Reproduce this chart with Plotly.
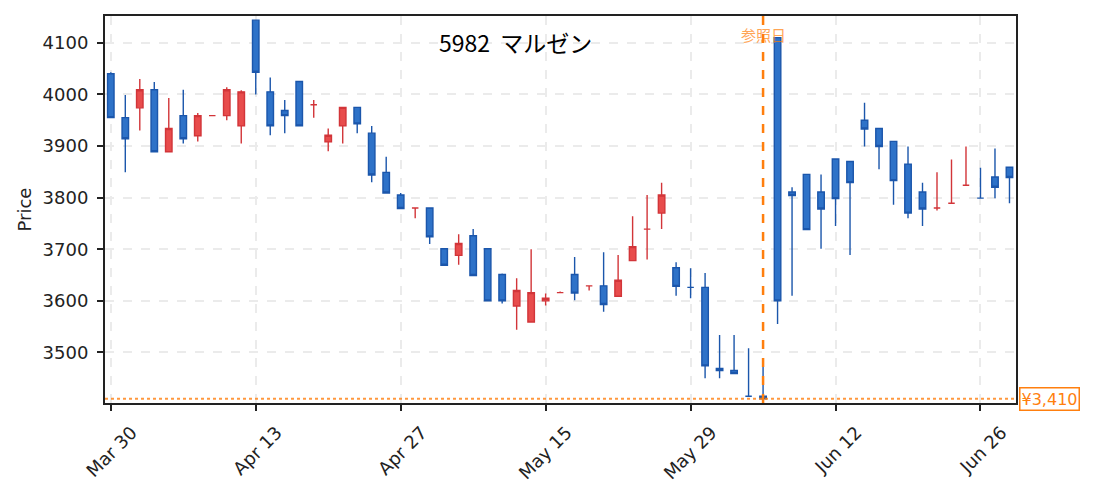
import plotly.graph_objects as go

# trading days (Tokyo, 2020)
dates = [
    "2020-03-30", "2020-03-31", "2020-04-01", "2020-04-02", "2020-04-03",
    "2020-04-06", "2020-04-07", "2020-04-08", "2020-04-09", "2020-04-10",
    "2020-04-13", "2020-04-14", "2020-04-15", "2020-04-16", "2020-04-17",
    "2020-04-20", "2020-04-21", "2020-04-22", "2020-04-23", "2020-04-24",
    "2020-04-27", "2020-04-28", "2020-04-30", "2020-05-01", "2020-05-07",
    "2020-05-08", "2020-05-11", "2020-05-12", "2020-05-13", "2020-05-14",
    "2020-05-15", "2020-05-18", "2020-05-19", "2020-05-20", "2020-05-21",
    "2020-05-22", "2020-05-25", "2020-05-26", "2020-05-27", "2020-05-28",
    "2020-05-29", "2020-06-01", "2020-06-02", "2020-06-03", "2020-06-04",
    "2020-06-05", "2020-06-08", "2020-06-09", "2020-06-10", "2020-06-11",
    "2020-06-12", "2020-06-15", "2020-06-16", "2020-06-17", "2020-06-18",
    "2020-06-19", "2020-06-22", "2020-06-23", "2020-06-24", "2020-06-25",
    "2020-06-26", "2020-06-29", "2020-06-30",
]
open_ = [
    4040, 3955, 3974, 4009, 3889, 3959, 3920, 3959, 3959, 3939,
    4144, 4005, 3969, 4025, 3980, 3908, 3939, 3975, 3925, 3849,
    3805, 3780, 3780, 3701, 3688, 3726, 3701, 3651, 3590, 3559,
    3600, 3616, 3651, 3629, 3629, 3609, 3678, 3739, 3770, 3664,
    3626, 3626, 3469, 3465, 3415, 3415, 4110, 3811, 3845, 3811,
    3875, 3870, 3950, 3934, 3909, 3865, 3811, 3780, 3789, 3824,
    3799, 3840, 3859,
]
high = [
    4043, 3999, 4030, 4024, 3993, 4009, 3964, 3959, 4014, 4008,
    4144, 4033, 3989, 4025, 3989, 3934, 3975, 3975, 3939, 3879,
    3809, 3780, 3780, 3701, 3729, 3739, 3701, 3653, 3644, 3700,
    3614, 3618, 3685, 3629, 3694, 3689, 3764, 3805, 3829, 3675,
    3663, 3654, 3534, 3534, 3508, 3474, 4110, 3820, 3845, 3845,
    3875, 3870, 3984, 3934, 3909, 3899, 3829, 3849, 3874, 3899,
    3858, 3895, 3859,
]
low = [
    3955, 3849, 3930, 3889, 3889, 3905, 3909, 3959, 3950, 3905,
    4000, 3921, 3925, 3939, 3955, 3890, 3905, 3925, 3830, 3809,
    3779, 3760, 3710, 3669, 3670, 3649, 3600, 3595, 3544, 3559,
    3591, 3616, 3601, 3620, 3579, 3609, 3678, 3680, 3739, 3610,
    3605, 3450, 3450, 3459, 3415, 3410, 3555, 3610, 3738, 3701,
    3745, 3689, 3899, 3855, 3786, 3760, 3745, 3775, 3789, 3824,
    3799, 3799, 3789,
]
close = [
    3955, 3914, 4009, 3889, 3934, 3914, 3959, 3959, 4009, 4005,
    4043, 3939, 3959, 3939, 3980, 3921, 3975, 3943, 3844, 3809,
    3779, 3780, 3724, 3669, 3711, 3649, 3600, 3600, 3620, 3616,
    3605, 3616, 3615, 3629, 3593, 3640, 3705, 3739, 3805, 3628,
    3626, 3474, 3465, 3459, 3415, 3410, 3600, 3804, 3738, 3778,
    3798, 3829, 3933, 3899, 3833, 3770, 3778, 3780, 3789, 3824,
    3799, 3820, 3839,
]

ref_date = "2020-06-05"
ref_price = 3410
tick_idx = [0, 10, 20, 30, 40, 50, 60]
tick_text = ["Mar 30", "Apr 13", "Apr 27", "May 15", "May 29", "Jun 12", "Jun 26"]

orange = "#ff7f0e"
latin = "DejaVu Sans, sans-serif"
cjk = "Noto Sans CJK JP, DejaVu Sans, sans-serif"

fig = go.Figure()

fig.add_trace(go.Candlestick(
    x=dates, open=open_, high=high, low=low, close=close,
    increasing=dict(line=dict(color="#d23539", width=1.4), fillcolor="#e84c4c"),
    decreasing=dict(line=dict(color="#1b56ab", width=1.4), fillcolor="#2e72c8"),
    whiskerwidth=0,
    showlegend=False,
))

# reference day and reference price
fig.add_shape(type="line", xref="x", yref="paper", x0=ref_date, x1=ref_date, y0=0, y1=1,
              line=dict(color=orange, width=2.5, dash="dash"), layer="above")
fig.add_shape(type="line", xref="paper", yref="y", x0=0, x1=1, y0=ref_price, y1=ref_price,
              line=dict(color=orange, width=2, dash="dot"), opacity=0.8, layer="above")

fig.add_annotation(x=ref_date, y=0.951, xref="x", yref="paper", yanchor="middle",
                   text="参照日", showarrow=False,
                   font=dict(size=15, color=orange, family=cjk), opacity=0.7)
fig.add_annotation(x=1, y=ref_price, xref="paper", yref="y", text=f"¥{ref_price:,}",
                   xanchor="left", yanchor="middle", xshift=3, showarrow=False,
                   font=dict(size=16, color=orange, family=latin),
                   bgcolor="white", bordercolor=orange, borderwidth=1.5, borderpad=1)
fig.add_annotation(x=0.451, y=0.933, xref="paper", yref="paper", yanchor="middle",
                   text="5982  マルゼン", showarrow=False,
                   font=dict(size=23, color="black", family=cjk))

# page body has an 8px margin, so the figure is shrunk and margins shifted by it
fig.update_layout(
    width=1087, height=484,
    margin=dict(l=97, r=79, t=6, b=89),
    plot_bgcolor="white", paper_bgcolor="white",
    font=dict(family=latin, size=18, color="#222"),
    boxgap=0.36,
    xaxis=dict(
        type="category", range=[-0.4, 62.45],
        rangeslider=dict(visible=False),
        tickmode="array",
        tickvals=[dates[i] for i in tick_idx], ticktext=tick_text,
        tickangle=-45, ticks="outside", ticklen=6, tickwidth=2, tickcolor="#222",
        ticklabelshift=21, ticklabelstandoff=4,
        showgrid=True, gridcolor="#ebebeb", griddash="dash", gridwidth=1.5,
        showline=True, linecolor="#222", linewidth=2, mirror=True,
        tickfont=dict(size=18, family=latin),
    ),
    yaxis=dict(
        range=[3402, 4152],
        tickvals=[3500, 3600, 3700, 3800, 3900, 4000, 4100],
        ticks="outside", ticklen=6, tickwidth=2, tickcolor="#222",
        ticklabelstandoff=5,
        showgrid=True, gridcolor="#ebebeb", griddash="dash", gridwidth=1.5,
        showline=True, linecolor="#222", linewidth=2, mirror=True,
        zeroline=False,
        title=dict(text="Price", font=dict(size=18, family=latin), standoff=6),
        tickfont=dict(size=18, family=latin),
    ),
)

fig.write_html("out.html")
